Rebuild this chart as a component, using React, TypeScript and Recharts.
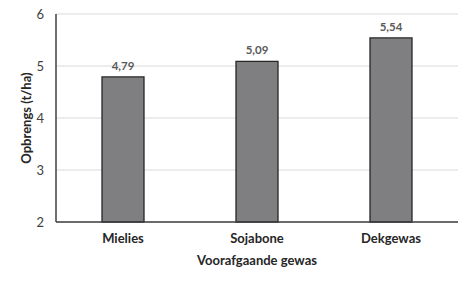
import { BarChart, Bar, XAxis, YAxis, CartesianGrid, LabelList } from "recharts";

const crops = ["Mielies", "Sojabone", "Dekgewas"];
const yieldValues = [4.79, 5.09, 5.54];
const yTicks = [2, 3, 4, 5, 6];

const data = crops.map((name, i) => ({ name, value: yieldValues[i] }));

const font = "Lato, 'Open Sans', sans-serif";
const titleStyle = { fontSize: 13, fontWeight: 700, fill: "#262626", fontFamily: font };

export default function App() {
  return (
    <div style={{ position: "fixed", left: 0, top: 0, background: "#fff" }}>
      <BarChart
        width={474}
        height={283}
        data={data}
        margin={{ top: 14, right: 16, left: 0, bottom: 31 }}
        barCategoryGap={0}
      >
        <CartesianGrid vertical={false} stroke="#d9d9d9" />
        <XAxis
          dataKey="name"
          height={30}
          axisLine={{ stroke: "#404040", strokeWidth: 1.5 }}
          tickLine={false}
          tickMargin={6}
          tick={titleStyle}
          label={{
            value: "Voorafgaande gewas",
            position: "insideBottom",
            offset: -13,
            style: titleStyle,
          }}
        />
        <YAxis
          width={56}
          domain={[2, 6]}
          ticks={yTicks}
          axisLine={{ stroke: "#404040", strokeWidth: 1.5 }}
          tickLine={false}
          tickMargin={6}
          tick={{ fontSize: 13, fill: "#404040", fontFamily: font }}
          label={{
            value: "Opbrengs (t/ha)",
            content: () => (
              <text
                x={26}
                y={118}
                transform="rotate(-90 26 118)"
                textAnchor="middle"
                dominantBaseline="central"
                style={titleStyle}
              >
                Opbrengs (t/ha)
              </text>
            ),
          }}
        />
        <Bar
          dataKey="value"
          barSize={42}
          fill="#7f7f81"
          stroke="#262626"
          strokeWidth={1.3}
          isAnimationActive={false}
        >
          <LabelList
            dataKey="value"
            position="top"
            offset={7}
            formatter={(v: any) => Number(v).toFixed(2).replace(".", ",")}
            style={{ fontSize: 11.5, fontWeight: 700, fill: "#595959", fontFamily: font }}
          />
        </Bar>
      </BarChart>
    </div>
  );
}
